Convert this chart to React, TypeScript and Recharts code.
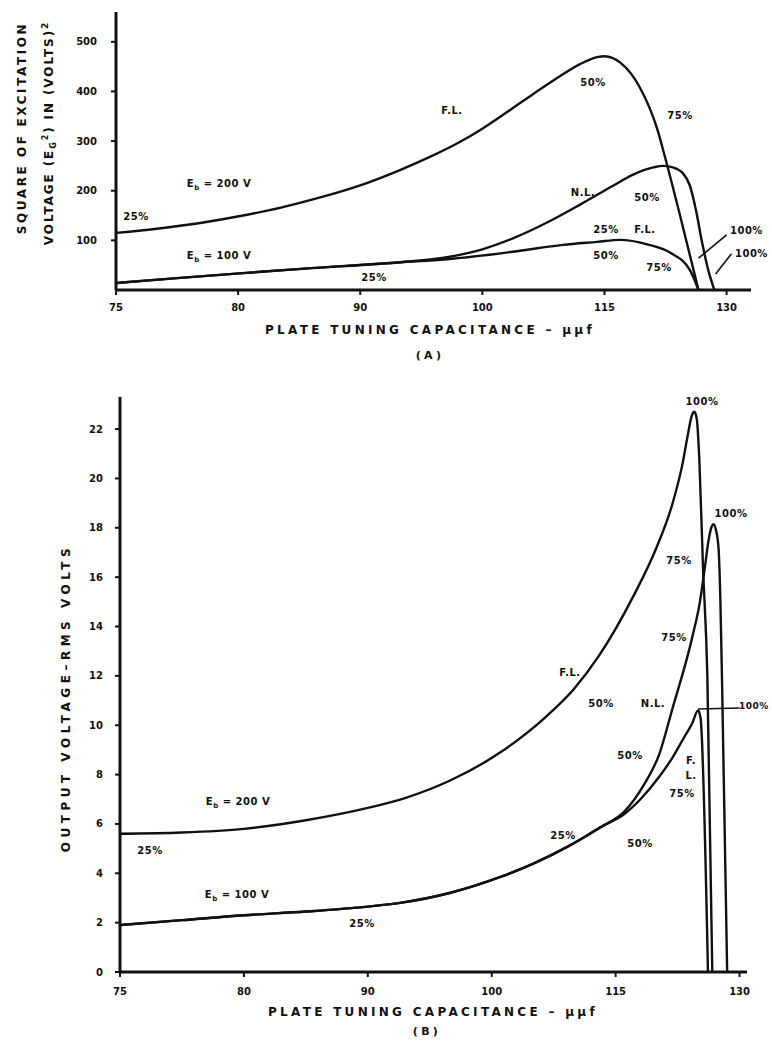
import React from "react";
import { LineChart, Line, XAxis, YAxis } from "recharts";

// x axis: evenly spaced capacitance ticks, data x is given in tick-slot units
const xTickLabels = ["75", "80", "90", "100", "115", "130"];
const xTickSlots = [0, 1, 2, 3, 4, 5];

// (A) square of excitation voltage, (volts)^2
const aTicksY = [100, 200, 300, 400, 500];
const aFl200: [number, number][] = [
  [0, 115], [0.35, 124], [0.69, 135], [1.04, 150], [1.35, 166], [1.65, 185], [2.06, 216],
  [2.33, 242], [2.57, 268], [2.8, 296], [3.0, 325], [3.2, 358], [3.4, 392], [3.6, 425],
  [3.8, 455], [3.94, 469], [4.0, 471], [4.13, 458], [4.29, 408], [4.43, 326], [4.5, 264],
  [4.62, 149], [4.77, 0],
];
const aNl100: [number, number][] = [
  [0, 14], [0.5, 24], [1.04, 34], [1.6, 44], [2.33, 56], [2.71, 66], [3.0, 82], [3.25, 104],
  [3.53, 136], [3.8, 172], [4.07, 210], [4.23, 232], [4.4, 247], [4.48, 250], [4.56, 247],
  [4.64, 236], [4.7, 210], [4.75, 160], [4.8, 95], [4.85, 40], [4.9, 0],
];
const aFl100: [number, number][] = [
  [0, 14], [0.5, 24], [1.04, 34], [1.6, 44], [2.33, 56], [2.71, 62], [3.25, 77], [3.66, 91],
  [3.94, 97], [4.13, 101], [4.35, 92], [4.54, 75], [4.7, 40], [4.77, 0],
];
const aLeader1: [number, number][] = [[4.77, 64], [5.0, 111]];
const aLeader2: [number, number][] = [[4.91, 32], [5.04, 73]];

// (B) output voltage, rms volts
const bTicksY = [0, 2, 4, 6, 8, 10, 12, 14, 16, 18, 20, 22];
const bFl200: [number, number][] = [
  [0, 5.6], [0.5, 5.65], [1, 5.8], [1.5, 6.15], [2, 6.65], [2.3, 7.05], [2.66, 7.75],
  [3.07, 8.9], [3.45, 10.4], [3.66, 11.45], [3.87, 12.85], [4.14, 15.2], [4.33, 17.2],
  [4.46, 19.0], [4.54, 20.6], [4.58, 21.7], [4.615, 22.55], [4.635, 22.7], [4.655, 22.4],
  [4.675, 20.8], [4.705, 16.4], [4.74, 12.0], [4.78, 0],
];
const bNl100: [number, number][] = [
  [0, 1.9], [0.5, 2.1], [1, 2.3], [1.5, 2.45], [2, 2.65], [2.26, 2.8], [2.66, 3.2],
  [3.07, 3.85], [3.34, 4.4], [3.62, 5.1], [3.89, 5.9], [4.07, 6.5], [4.23, 7.6], [4.35, 8.8],
  [4.46, 10.7], [4.62, 13.6], [4.68, 15.0], [4.72, 16.4], [4.75, 17.5], [4.775, 18.05],
  [4.79, 18.15], [4.81, 17.9], [4.83, 17.2], [4.845, 15.1], [4.86, 11.4], [4.9, 0],
];
const bFl100: [number, number][] = [
  [0, 1.9], [0.5, 2.1], [1, 2.3], [1.5, 2.45], [2, 2.65], [2.26, 2.8], [2.66, 3.2],
  [3.07, 3.85], [3.34, 4.4], [3.62, 5.1], [3.89, 5.9], [4.07, 6.4], [4.2, 7.0], [4.35, 7.9],
  [4.46, 8.7], [4.54, 9.4], [4.62, 10.1], [4.665, 10.6], [4.685, 10.3], [4.745, 0],
];
const bLeader: [number, number][] = [[4.665, 10.66], [5.0, 10.7]];

const toPts = (arr: [number, number][]) => arr.map(([x, v]) => ({ x, v }));

const FONT = "'DejaVu Sans', sans-serif";
const ink = "#111";

const tickStyle = { fontSize: 10, fontWeight: 700, fill: ink, fontFamily: FONT };

function Note({ x, y, children, start, size = 10 }: { x: number; y: number; children: React.ReactNode; start?: boolean; size?: number }) {
  return (
    <div
      style={{
        position: "absolute", left: x, top: y, whiteSpace: "nowrap",
        transform: start ? "translate(0,-50%)" : "translate(-50%,-50%)",
        fontFamily: FONT, fontWeight: 700, fontSize: size, color: ink, letterSpacing: 0.5,
      }}
    >
      {children}
    </div>
  );
}

const Eb = ({ v }: { v: string }) => (
  <span>E<sub style={{ fontSize: 7 }}>b</sub> = {v}</span>
);

const notesA = [
  { x: 452, y: 110, t: "F.L." },
  { x: 593, y: 82, t: "50%" },
  { x: 680, y: 115, t: "75%" },
  { x: 583, y: 192, t: "N.L." },
  { x: 647, y: 197, t: "50%" },
  { x: 606, y: 229, t: "25%" },
  { x: 645, y: 229, t: "F.L." },
  { x: 606, y: 255, t: "50%" },
  { x: 659, y: 267, t: "75%" },
  { x: 136, y: 216, t: "25%" },
  { x: 374, y: 277, t: "25%" },
];
const notesB = [
  { x: 702, y: 401, t: "100%" },
  { x: 731, y: 513, t: "100%" },
  { x: 679, y: 560, t: "75%" },
  { x: 674, y: 637, t: "75%" },
  { x: 570, y: 672, t: "F.L." },
  { x: 601, y: 703, t: "50%" },
  { x: 653, y: 703, t: "N.L." },
  { x: 630, y: 755, t: "50%" },
  { x: 691, y: 760, t: "F." },
  { x: 691, y: 775, t: "L." },
  { x: 682, y: 793, t: "75%" },
  { x: 563, y: 835, t: "25%" },
  { x: 640, y: 843, t: "50%" },
  { x: 150, y: 850, t: "25%" },
  { x: 362, y: 923, t: "25%" },
];

const titleStyle: React.CSSProperties = {
  position: "absolute", whiteSpace: "nowrap", fontFamily: FONT, fontWeight: 700,
  fontSize: 12, color: ink, letterSpacing: 3.3, transform: "translate(-50%,-50%)",
};
const vTitle = (x: number, y: number, spacing: number): React.CSSProperties => ({
  ...titleStyle, left: x, top: y, letterSpacing: spacing,
  transform: "translate(-50%,-50%) rotate(-90deg)",
});

const curve = (d: [number, number][], key: string) => (
  <Line key={key} data={toPts(d)} dataKey="v" type="monotone" stroke={ink} strokeWidth={2.4}
    dot={false} isAnimationActive={false} />
);
const leader = (d: [number, number][], key: string) => (
  <Line key={key} data={toPts(d)} dataKey="v" type="linear" stroke={ink} strokeWidth={1.6}
    dot={false} isAnimationActive={false} />
);

export default function App() {
  return (
    <div style={{ position: "absolute", left: 0, top: 0, width: 772, height: 1046, background: "#fff", overflow: "hidden" }}>
      {/* (A) */}
      <div style={{ position: "absolute", left: 0, top: 0 }}>
        <LineChart width={772} height={375} margin={{ top: 12, right: 21, left: 76, bottom: 55 }}>
          <XAxis dataKey="x" type="number" domain={[0, 5.2]} ticks={xTickSlots}
            tickFormatter={(i: number) => xTickLabels[i]} height={30}
            axisLine={{ stroke: ink, strokeWidth: 3 }} tickLine={{ stroke: ink, strokeWidth: 2 }}
            tickSize={5} tickMargin={9} tick={tickStyle} />
          <YAxis type="number" domain={[0, 560]} ticks={aTicksY} width={40}
            axisLine={{ stroke: ink, strokeWidth: 3 }} tickLine={{ stroke: ink, strokeWidth: 2 }}
            tickSize={5} tickMargin={14} tick={tickStyle} />
          {curve(aFl200, "a1")}
          {curve(aNl100, "a2")}
          {curve(aFl100, "a3")}
          {leader(aLeader1, "al1")}
          {leader(aLeader2, "al2")}
        </LineChart>
      </div>
      {/* (B) */}
      <div style={{ position: "absolute", left: 0, top: 380 }}>
        <LineChart width={772} height={640} margin={{ top: 17, right: 25, left: 80, bottom: 18 }}>
          <XAxis dataKey="x" type="number" domain={[0, 5.06]} ticks={xTickSlots}
            tickFormatter={(i: number) => xTickLabels[i]} height={30}
            axisLine={{ stroke: ink, strokeWidth: 3 }} tickLine={{ stroke: ink, strokeWidth: 2 }}
            tickSize={5} tickMargin={11} tick={tickStyle} />
          <YAxis type="number" domain={[0, 23.3]} ticks={bTicksY} width={40}
            axisLine={{ stroke: ink, strokeWidth: 3 }} tickLine={{ stroke: ink, strokeWidth: 2 }}
            tickSize={5} tickMargin={12} tick={tickStyle} />
          {curve(bFl200, "b1")}
          {curve(bNl100, "b2")}
          {curve(bFl100, "b3")}
          {leader(bLeader, "bl1")}
        </LineChart>
      </div>

      {/* axis titles */}
      <div style={vTitle(22, 128, 2.6)}>SQUARE OF EXCITATION</div>
      <div style={vTitle(49, 133, 1.9)}>
        VOLTAGE (E<sub style={{ fontSize: 8 }}>G</sub><sup style={{ fontSize: 8 }}>2</sup>) IN (VOLTS)<sup style={{ fontSize: 9 }}>2</sup>
      </div>
      <div style={{ ...titleStyle, left: 430, top: 330 }}>PLATE TUNING CAPACITANCE – μμf</div>
      <div style={{ ...titleStyle, left: 430, top: 355, fontSize: 11 }}>(A)</div>

      <div style={vTitle(66, 698, 4.5)}>OUTPUT VOLTAGE–RMS VOLTS</div>
      <div style={{ ...titleStyle, left: 433, top: 1012 }}>PLATE TUNING CAPACITANCE – μμf</div>
      <div style={{ ...titleStyle, left: 427, top: 1031, fontSize: 11 }}>(B)</div>

      {/* curve annotations */}
      {notesA.map((n, i) => <Note key={"na" + i} x={n.x} y={n.y}>{n.t}</Note>)}
      <Note x={219} y={185}><Eb v="200 V" /></Note>
      <Note x={219} y={257}><Eb v="100 V" /></Note>
      <Note x={730} y={230} start>100%</Note>
      <Note x={735} y={253} start>100%</Note>

      {notesB.map((n, i) => <Note key={"nb" + i} x={n.x} y={n.y}>{n.t}</Note>)}
      <Note x={238} y={803}><Eb v="200 V" /></Note>
      <Note x={237} y={896}><Eb v="100 V" /></Note>
      <Note x={739} y={706} start size={9}>100%</Note>
    </div>
  );
}
